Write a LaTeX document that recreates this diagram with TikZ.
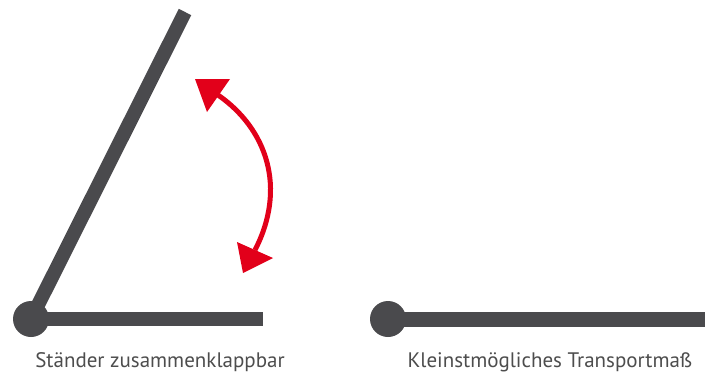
\documentclass[tikz,border=0pt]{standalone}
\usepackage{fontspec}
\setmainfont{PT Sans}
\definecolor{bargray}{RGB}{74,74,77}
\definecolor{arrowred}{RGB}{226,0,26}
\definecolor{textgray}{RGB}{77,77,77}
\begin{document}
\begin{tikzpicture}[x=1pt,y=-1pt,
  bar/.style={draw=bargray,line width=14pt,line cap=butt},
  hinge/.style={circle,fill=bargray,minimum size=36pt,inner sep=0pt},
  caption/.style={text=textgray,font=\fontsize{21}{21}\selectfont,anchor=base,inner sep=0pt}]
\useasboundingbox (0,0) rectangle (711,372);
% left stand
\node[hinge] (h1) at (31,319) {};
\coordinate (top) at (185,12);
\coordinate (e1) at (263,319);
\draw[bar] (h1.center) -- (top);
\draw[bar] (h1.center) -- (e1);
% right folded
\node[hinge] (h2) at (388,319) {};
\coordinate (e2) at (705,319);
\draw[bar,line width=15pt] (h2.center) -- (e2);
% red arrow
\coordinate (s0) at (218,95);
\coordinate (s1) at (255,250);
\draw[arrowred,line width=5pt] (s0) .. controls (267,129) and (287,188) .. (s1);
\fill[arrowred] (195,79) -- (230,79) -- (207,112) -- cycle;
\fill[arrowred] (237,242) -- (273,258) -- (243,273) -- cycle;
% captions
\node[caption] (c1) at (160,367) {Ständer zusammenklappbar};
\node[caption] (c2) at (550,367) {Kleinstmögliches Transportmaß};
\end{tikzpicture}
\end{document}
